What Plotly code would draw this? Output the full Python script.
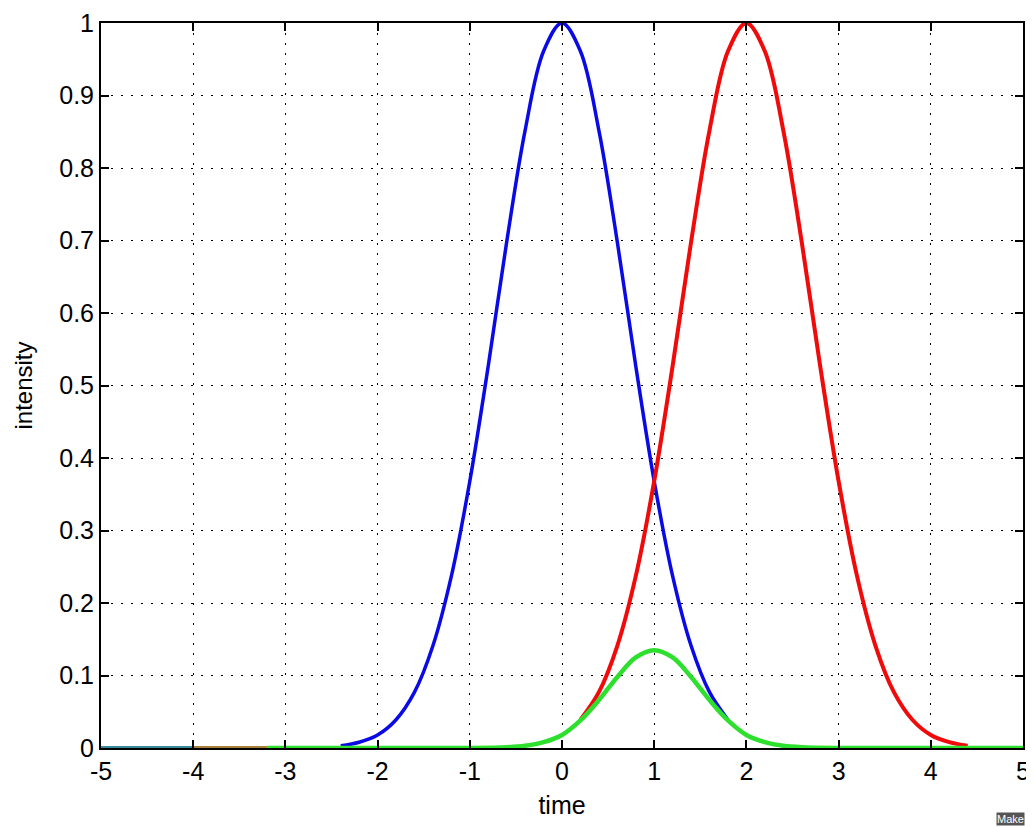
import plotly.graph_objects as go

# ---- data ----
blue_t = [-2.4, -2.2, -2.0, -1.8, -1.6, -1.4, -1.2, -1.0, -0.8, -0.6, -0.4, -0.2,
          0.0, 0.2, 0.4, 0.6, 0.8, 1.0, 1.2, 1.4, 1.6, 1.8]
blue_v = [0.003, 0.008, 0.018, 0.039, 0.077, 0.141, 0.237, 0.368, 0.527, 0.698, 0.852, 0.961,
          1.000, 0.961, 0.852, 0.698, 0.527, 0.368, 0.237, 0.141, 0.077, 0.039]

red_t = [0.2, 0.4, 0.6, 0.8, 1.0, 1.2, 1.4, 1.6, 1.8, 2.0, 2.2, 2.4, 2.6, 2.8, 3.0,
         3.2, 3.4, 3.6, 3.8, 4.0, 4.2, 4.4]
red_v = [0.039, 0.077, 0.141, 0.237, 0.368, 0.527, 0.698, 0.852, 0.961, 1.000, 0.961, 0.852,
         0.698, 0.527, 0.368, 0.237, 0.141, 0.077, 0.039, 0.018, 0.008, 0.003]

green_t = [-3.2, -2.0, -1.0, -0.6, -0.4, -0.2, 0.0, 0.2, 0.4, 0.6, 0.8, 1.0, 1.2, 1.4,
           1.6, 1.8, 2.0, 2.2, 2.4, 2.6, 3.0, 4.0, 5.0]
green_v = [0.0, 0.0, 0.0, 0.001, 0.003, 0.008, 0.018, 0.038, 0.066, 0.098, 0.125, 0.135,
           0.125, 0.098, 0.066, 0.038, 0.018, 0.008, 0.003, 0.001, 0.0, 0.0, 0.0]

teal_t = [-5.0, -4.0]
teal_v = [0.0, 0.0]
brown_t = [-4.0, -3.2]
brown_v = [0.0, 0.0]

x_ticks = [-5, -4, -3, -2, -1, 0, 1, 2, 3, 4, 5]
x_tick_text = ["-5", "-4", "-3", "-2", "-1", "0", "1", "2", "3", "4", "5"]
y_ticks = [0, 0.1, 0.2, 0.3, 0.4, 0.5, 0.6, 0.7, 0.8, 0.9, 1]
y_tick_text = ["0", "0.1", "0.2", "0.3", "0.4", "0.5", "0.6", "0.7", "0.8", "0.9", "1"]

FONT = "Liberation Sans"

fig = go.Figure()
fig.add_trace(go.Scatter(x=teal_t, y=teal_v, mode="lines",
                         line=dict(color="#3a8a98", width=4), showlegend=False))
fig.add_trace(go.Scatter(x=brown_t, y=brown_v, mode="lines",
                         line=dict(color="#a8803c", width=4), showlegend=False))
fig.add_trace(go.Scatter(x=blue_t, y=blue_v, mode="lines", line_shape="spline",
                         line=dict(color="#0a0ae6", width=3.5), showlegend=False))
fig.add_trace(go.Scatter(x=red_t, y=red_v, mode="lines", line_shape="spline",
                         line=dict(color="#f00a0a", width=4), showlegend=False))
fig.add_trace(go.Scatter(x=green_t, y=green_v, mode="lines", line_shape="spline",
                         line=dict(color="#2de02d", width=4.5), showlegend=False))

axis_common = dict(
    showline=True, linecolor="black", linewidth=2, mirror="ticks",
    ticks="inside", ticklen=8, tickwidth=2, tickcolor="black",
    showgrid=True, gridcolor="black", gridwidth=1.3, griddash="2px,8px",
    zeroline=False, automargin=False,
    tickfont=dict(family=FONT, size=25, color="black"),
)

fig.update_xaxes(range=[-5, 5], tickvals=x_ticks, ticktext=x_tick_text,
                 title=dict(text="time", font=dict(family=FONT, size=25, color="black"), standoff=12),
                 **axis_common)
fig.update_yaxes(range=[0, 1], tickvals=y_ticks, ticktext=y_tick_text,
                 title=dict(text="intensity", font=dict(family=FONT, size=24, color="black"), standoff=20),
                 **axis_common)

fig.add_annotation(xref="paper", yref="paper", x=1.002, y=-0.107, xanchor="right", yanchor="bottom",
                   text="Make", showarrow=False, bgcolor="#555555", borderpad=0,
                   font=dict(family=FONT, size=11, color="white"))

fig.update_layout(
    width=1026, height=820,
    margin=dict(l=93, r=11, t=15, b=80),
    paper_bgcolor="white", plot_bgcolor="white",
)

fig.write_html("out.html")
